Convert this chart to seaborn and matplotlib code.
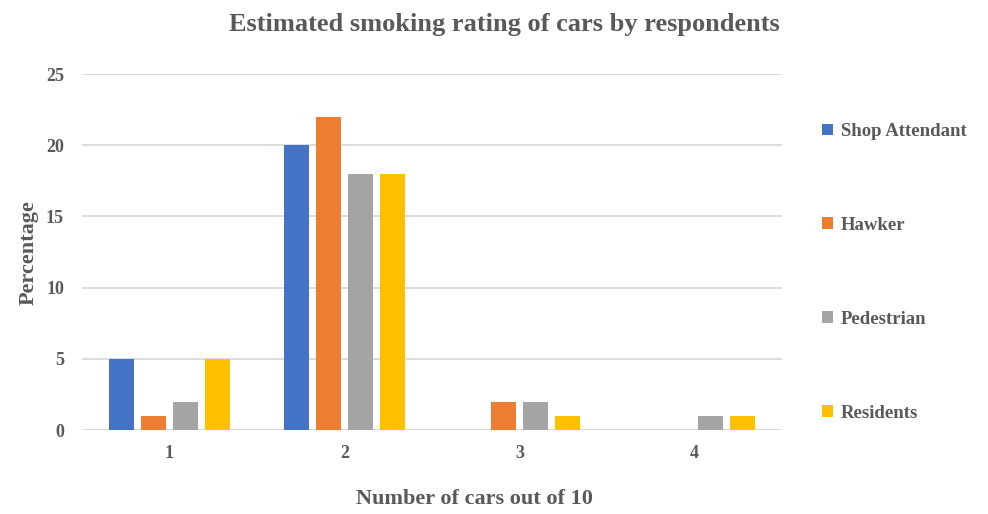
import matplotlib
matplotlib.use("Agg")
import matplotlib.pyplot as plt
import seaborn as sns
import pandas as pd
from matplotlib.patches import Patch

categories = ["1", "2", "3", "4"]
series_names = ["Shop Attendant", "Hawker", "Pedestrian", "Residents"]
shop_attendant = [5, 20, 0, 0]
hawker = [1, 22, 2, 0]
pedestrian = [2, 18, 2, 1]
residents = [5, 18, 1, 1]
colors = ["#4472C4", "#ED7D31", "#A5A5A5", "#FFC000"]
y_ticks = [0, 5, 10, 15, 20, 25]

rows = []
for name, vals in zip(series_names, [shop_attendant, hawker, pedestrian, residents]):
    for c, v in zip(categories, vals):
        rows.append({"cat": c, "series": name, "value": v})
df = pd.DataFrame(rows)

sns.set_theme(style="white")
plt.rcParams["font.family"] = ["Liberation Serif", "DejaVu Serif"]

fig = plt.figure(figsize=(9.88, 5.14), dpi=100)
ax = fig.add_axes([0.083, 0.163, 0.7085, 0.693])

sns.barplot(data=df, x="cat", y="value", hue="series", order=categories,
            hue_order=series_names, palette=colors, width=0.73, gap=0.22,
            saturation=1, legend=False, ax=ax, errorbar=None, linewidth=0)

ax.set_xlim(-0.5, 3.5)
ax.set_ylim(0, 25)
ax.set_yticks(y_ticks)
for y in y_ticks:
    ax.axhline(y, color="#D9D9D9", lw=1.3, zorder=0)
for s in ax.spines.values():
    s.set_visible(False)
ax.tick_params(axis="both", length=0, labelsize=13, labelcolor="#595959")
ax.tick_params(axis="y", pad=13)
ax.tick_params(axis="x", pad=11)
for lab in ax.get_xticklabels() + ax.get_yticklabels():
    lab.set_fontweight("bold")

ax.set_xlabel("Number of cars out of 10", fontsize=16, fontweight="bold",
              color="#595959", labelpad=19)
ax.xaxis.set_label_coords(0.561, -0.165)
ax.set_ylabel("Percentage", fontsize=16, fontweight="bold", color="#595959", labelpad=5)

fig.suptitle("Estimated smoking rating of cars by respondents", x=0.51, y=0.975,
             fontsize=19, fontweight="bold", color="#595959")

handles = [Patch(facecolor=c, edgecolor="none") for c in colors]
leg = fig.legend(handles, series_names, loc="center left", bbox_to_anchor=(0.815, 0.47),
                 frameon=False, handlelength=0.6, handleheight=0.6, handletextpad=0.4,
                 labelspacing=4.1, prop={"family": "Liberation Serif", "weight": "bold", "size": 13.5})
for t in leg.get_texts():
    t.set_color("#595959")

fig.savefig("out.png", dpi=100)
